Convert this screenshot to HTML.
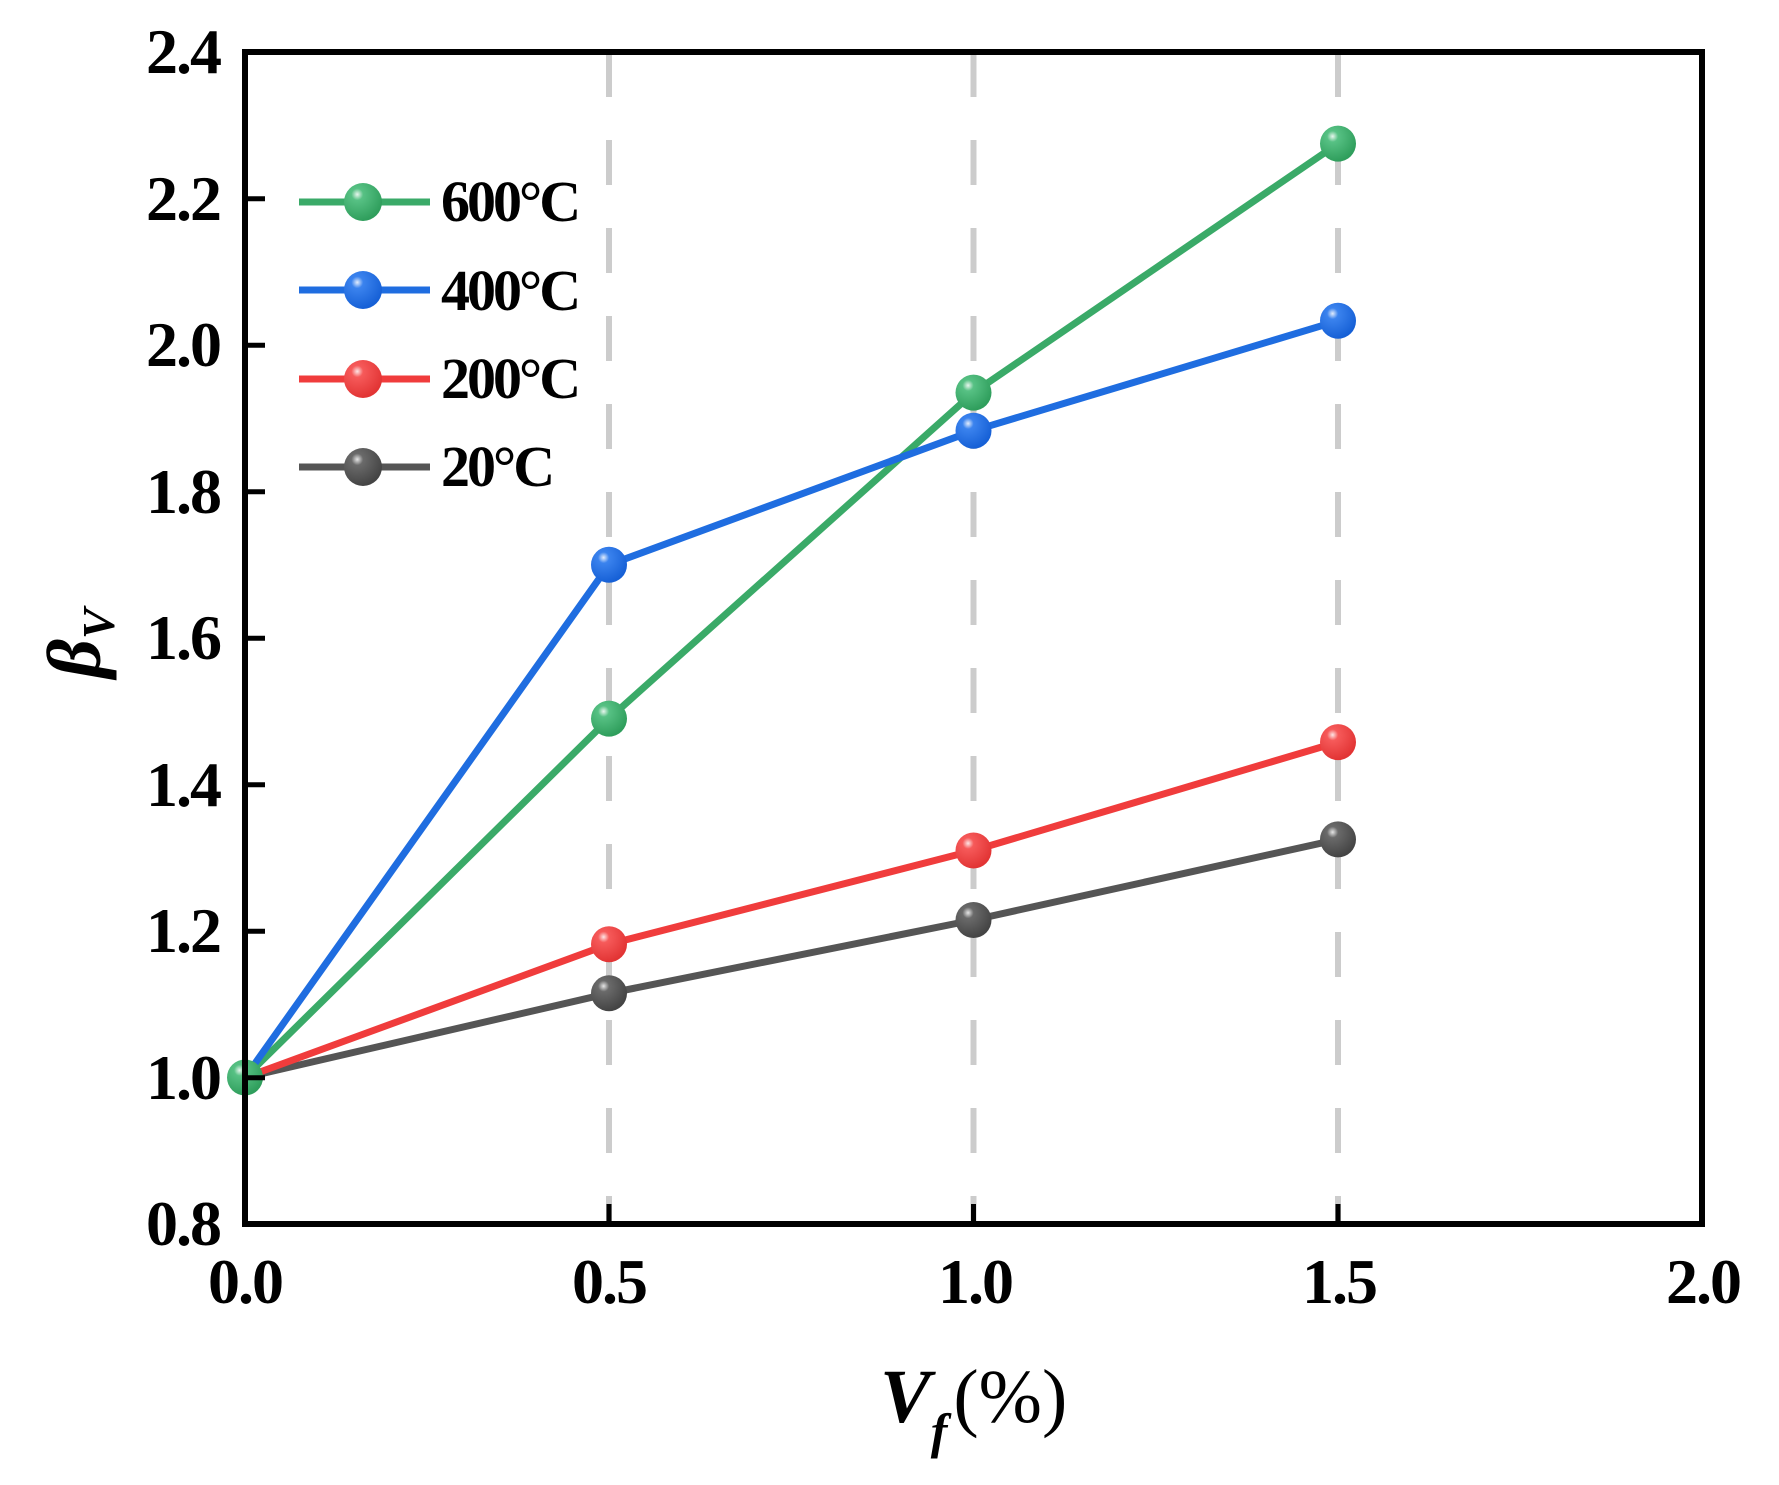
<!DOCTYPE html>
<html><head><meta charset="utf-8"><style>html,body{margin:0;padding:0;background:#fff}svg{display:block}</style></head><body>
<svg width="1779" height="1485" viewBox="0 0 1779 1485" xmlns="http://www.w3.org/2000/svg">
<defs>
<radialGradient id="gG" cx="0.35" cy="0.3" r="0.7"><stop offset="0" stop-color="#e8f6ee"/><stop offset="0.22" stop-color="#57c184"/><stop offset="1" stop-color="#2f9e5c"/></radialGradient>
<radialGradient id="gB" cx="0.35" cy="0.3" r="0.7"><stop offset="0" stop-color="#e3edfc"/><stop offset="0.22" stop-color="#3b83ee"/><stop offset="1" stop-color="#1660d6"/></radialGradient>
<radialGradient id="gR" cx="0.35" cy="0.3" r="0.7"><stop offset="0" stop-color="#fde6e6"/><stop offset="0.22" stop-color="#f65a5a"/><stop offset="1" stop-color="#e23434"/></radialGradient>
<radialGradient id="gK" cx="0.35" cy="0.3" r="0.7"><stop offset="0" stop-color="#e6e6e6"/><stop offset="0.22" stop-color="#6a6a6a"/><stop offset="1" stop-color="#444"/></radialGradient>
</defs>
<g stroke="#cccccc" stroke-width="6" stroke-dasharray="45 43">
<line x1="609" y1="52" x2="609" y2="1224"/>
<line x1="973.5" y1="52" x2="973.5" y2="1224"/>
<line x1="1338" y1="52" x2="1338" y2="1224"/>
</g>
<g fill="none" stroke-width="7" stroke-linejoin="round">
<polyline stroke="#555555" points="245,1077.5 609,993.3 973.5,920 1338,839.4"/>
<polyline stroke="#f03c3c" points="245,1077.5 609,944.2 973.5,850.5 1338,742.1"/>
<polyline stroke="#3aaa68" points="245,1077.5 609,718.6 973.5,392.6 1338,143.6"/>
<polyline stroke="#1f6de0" points="245,1077.5 609,564.8 973.5,430.7 1338,320.8"/>
</g>
<g>
<circle cx="245" cy="1077.5" r="18" fill="url(#gG)"/>
<circle cx="609" cy="993.3" r="18" fill="url(#gK)"/><circle cx="973.5" cy="920" r="18" fill="url(#gK)"/><circle cx="1338" cy="839.4" r="18" fill="url(#gK)"/>
<circle cx="609" cy="944.2" r="18" fill="url(#gR)"/><circle cx="973.5" cy="850.5" r="18" fill="url(#gR)"/><circle cx="1338" cy="742.1" r="18" fill="url(#gR)"/>
<circle cx="609" cy="718.6" r="18" fill="url(#gG)"/><circle cx="973.5" cy="392.6" r="18" fill="url(#gG)"/><circle cx="1338" cy="143.6" r="18" fill="url(#gG)"/>
<circle cx="609" cy="564.8" r="18" fill="url(#gB)"/><circle cx="973.5" cy="430.7" r="18" fill="url(#gB)"/><circle cx="1338" cy="320.8" r="18" fill="url(#gB)"/>
</g>
<rect x="245" y="52" width="1457" height="1172" fill="none" stroke="#000" stroke-width="6"/>
<g stroke="#000" stroke-width="5">
<line x1="245" y1="198.7" x2="265" y2="198.7"/><line x1="245" y1="345.2" x2="265" y2="345.2"/><line x1="245" y1="491.7" x2="265" y2="491.7"/><line x1="245" y1="638.2" x2="265" y2="638.2"/><line x1="245" y1="784.7" x2="265" y2="784.7"/><line x1="245" y1="931.2" x2="265" y2="931.2"/><line x1="245" y1="1077.7" x2="265" y2="1077.7"/>
<line x1="609" y1="1224" x2="609" y2="1204"/><line x1="973.5" y1="1224" x2="973.5" y2="1204"/><line x1="1338" y1="1224" x2="1338" y2="1204"/>
</g>
<g font-family="Liberation Serif, serif" font-weight="bold" font-size="64" fill="#000" text-anchor="end" letter-spacing="-2">
<text x="220" y="73">2.4</text><text x="220" y="220">2.2</text><text x="220" y="366">2.0</text><text x="220" y="513">1.8</text><text x="220" y="659">1.6</text><text x="220" y="806">1.4</text><text x="220" y="952">1.2</text><text x="220" y="1099">1.0</text><text x="220" y="1245">0.8</text>
</g>
<g font-family="Liberation Serif, serif" font-weight="bold" font-size="64" fill="#000" text-anchor="middle" letter-spacing="-2">
<text x="245" y="1303">0.0</text><text x="609" y="1303">0.5</text><text x="975" y="1303">1.0</text><text x="1339" y="1303">1.5</text><text x="1703" y="1303">2.0</text>
</g>
<g stroke-width="7">
<line x1="299" y1="202" x2="430" y2="202" stroke="#3aaa68"/><circle cx="363" cy="202" r="19" fill="url(#gG)"/>
<line x1="299" y1="290" x2="430" y2="290" stroke="#1f6de0"/><circle cx="363" cy="290" r="19" fill="url(#gB)"/>
<line x1="299" y1="379" x2="430" y2="379" stroke="#f03c3c"/><circle cx="363" cy="379" r="19" fill="url(#gR)"/>
<line x1="299" y1="467" x2="430" y2="467" stroke="#555555"/><circle cx="363" cy="467" r="19" fill="url(#gK)"/>
</g>
<g font-family="Liberation Serif, serif" font-weight="bold" font-size="58" fill="#000" letter-spacing="-3">
<text x="441" y="221">600°C</text><text x="441" y="310">400°C</text><text x="441" y="398">200°C</text><text x="441" y="486">20°C</text>
</g>
<text x="880" y="1422" font-family="Liberation Serif, serif" font-size="76" fill="#000"><tspan font-weight="bold" font-style="italic">V</tspan><tspan font-weight="bold" font-style="italic" font-size="50" dy="26">f</tspan><tspan dy="-26" dx="6">(%)</tspan></text>
<text transform="translate(100,678) rotate(-90)" font-family="Liberation Serif, serif" font-size="76" fill="#000" font-weight="bold" font-style="italic">β<tspan font-size="46" dy="14">V</tspan></text>
</svg>
</body></html>
